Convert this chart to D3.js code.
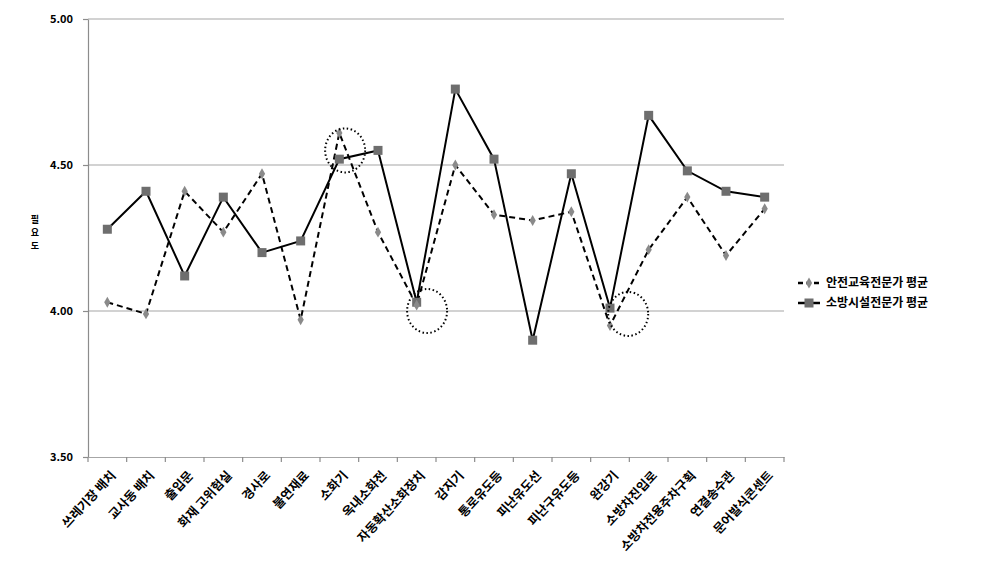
<!DOCTYPE html>
<html>
<head>
<meta charset="utf-8">
<script src="https://cdn.jsdelivr.net/npm/d3@7"></script>
<style>
  body { margin: 0; background: #fff; }
  text { font-family: "Noto Sans CJK KR", "Noto Sans", sans-serif; }
</style>
</head>
<body>
<div class="chart"></div>
<script>
const categories = ["쓰레기장 배치", "교사동 배치", "출입문", "화재 고위험실", "경사로", "불연재료",
  "소화기", "옥내소화전", "자동확산소화장치", "감지기", "통로유도등", "피난유도선",
  "피난구유도등", "완강기", "소방차진입로", "소방차전용주차구획", "연결송수관", "문어발식콘센트"];

const safetyEdu = [4.03, 3.99, 4.41, 4.27, 4.47, 3.97, 4.61, 4.27, 4.02, 4.50, 4.33, 4.31, 4.34, 3.95, 4.21, 4.39, 4.19, 4.35];
const fireFacility = [4.28, 4.41, 4.12, 4.39, 4.20, 4.24, 4.52, 4.55, 4.03, 4.76, 4.52, 3.90, 4.47, 4.01, 4.67, 4.48, 4.41, 4.39];

const seriesNames = ["안전교육전문가 평균", "소방시설전문가 평균"];
const yTicks = [3.5, 4.0, 4.5, 5.0];

// dotted rings drawn on the chart (category, shift in bands, value)
const rings = [
  { cat: "소화기", shift: 0.15, value: 4.55 },
  { cat: "자동확산소화장치", shift: 0.27, value: 4.00 },
  { cat: "완강기", shift: 0.47, value: 3.99 }
];

const W = 982, H = 577;
const margin = { top: 19, right: 198, bottom: 120, left: 88 };
const width = W - margin.left - margin.right,
  height = H - margin.top - margin.bottom;

const svg = d3.select(".chart").append("svg")
  .attr("width", W).attr("height", H)
  .append("g")
  .attr("transform", "translate(" + margin.left + "," + margin.top + ")");

const xScale = d3.scaleBand().domain(categories).range([0, width]);
const yScale = d3.scaleLinear().domain([3.5, 5.0]).range([height, 0]);
const xc = c => xScale(c) + xScale.bandwidth() / 2;

// gridlines
svg.selectAll(".grid").data(yTicks.slice(1)).enter().append("line")
  .attr("class", "grid")
  .attr("x1", 0).attr("x2", width)
  .attr("y1", d => yScale(d)).attr("y2", d => yScale(d))
  .attr("stroke", "#a6a6a6").attr("stroke-width", 1.2);

// y axis
const yAxis = svg.append("g").attr("class", "y-axis")
  .call(d3.axisLeft(yScale).tickValues(yTicks).tickFormat(d3.format(".2f")).tickSizeInner(5).tickSizeOuter(0));
yAxis.select(".domain").attr("stroke", "#8c8c8c").attr("stroke-width", 1.2);
yAxis.selectAll(".tick line").attr("stroke", "#8c8c8c").attr("stroke-width", 1.2);
yAxis.selectAll(".tick text")
  .attr("x", -15)
  .style("font-size", "11px").style("font-weight", "bold").attr("fill", "#000");

// x axis
const xAxis = svg.append("g").attr("class", "x-axis")
  .attr("transform", `translate(0, ${height})`)
  .call(d3.axisBottom(xScale).tickSize(0).tickFormat(""));
xAxis.select(".domain").attr("stroke", "#a6a6a6").attr("stroke-width", 1.2);
svg.append("g").selectAll("line").data(categories.concat(["_end"])).enter().append("line")
  .attr("x1", (d, i) => i * xScale.step()).attr("x2", (d, i) => i * xScale.step())
  .attr("y1", height).attr("y2", height + 5)
  .attr("stroke", "#8c8c8c").attr("stroke-width", 1.2);

svg.append("g").selectAll("text").data(categories).enter().append("text")
  .attr("transform", d => `translate(${xc(d) + 6}, ${height + 16}) rotate(-47)`)
  .attr("text-anchor", "end")
  .attr("dy", "0.35em")
  .style("font-size", "12.5px").style("font-weight", "bold")
  .text(d => d);

// y title, stacked characters
const yTitle = svg.append("text")
  .attr("text-anchor", "middle")
  .style("font-size", "9px").style("font-weight", "bold");
["필", "요", "도"].forEach((ch, i) => {
  yTitle.append("tspan").attr("x", -53).attr("y", yScale(4.3) + i * 13).text(ch);
});

// lines
const line = d3.line().x((d, i) => xc(categories[i])).y(d => yScale(d));

svg.append("path").datum(safetyEdu)
  .attr("d", line).attr("fill", "none")
  .attr("stroke", "#000").attr("stroke-width", 2).attr("stroke-dasharray", "6,4");

svg.append("path").datum(fireFacility)
  .attr("d", line).attr("fill", "none")
  .attr("stroke", "#000").attr("stroke-width", 2);

const diamond = d3.symbol().type(d3.symbolDiamond).size(34);

svg.selectAll(".sq").data(fireFacility).enter().append("rect")
  .attr("class", "sq")
  .attr("x", (d, i) => xc(categories[i]) - 4.5)
  .attr("y", d => yScale(d) - 4.5)
  .attr("width", 9).attr("height", 9)
  .attr("fill", "#6e6e6e");

svg.selectAll(".dm").data(safetyEdu).enter().append("path")
  .attr("class", "dm")
  .attr("d", diamond)
  .attr("transform", (d, i) => `translate(${xc(categories[i])}, ${yScale(d)})`)
  .attr("fill", "#8a8a8a");

// dotted rings
svg.selectAll(".ring").data(rings).enter().append("ellipse")
  .attr("cx", d => xc(d.cat) + d.shift * xScale.step())
  .attr("cy", d => yScale(d.value))
  .attr("rx", 20).attr("ry", 22)
  .attr("fill", "none").attr("stroke", "#000")
  .attr("stroke-width", 2).attr("stroke-dasharray", "1.5,2.5");

// legend
const legend = svg.append("g").attr("transform", `translate(${width + 14}, 264)`);
seriesNames.forEach((name, i) => {
  const g = legend.append("g").attr("transform", `translate(0, ${i * 20})`);
  g.append("line").attr("x1", 0).attr("x2", 22).attr("y1", 0).attr("y2", 0)
    .attr("stroke", "#000").attr("stroke-width", 2.5)
    .attr("stroke-dasharray", i === 0 ? "5,3" : null);
  if (i === 0) {
    g.append("path").attr("d", diamond).attr("transform", "translate(11,0)").attr("fill", "#8a8a8a");
  } else {
    g.append("rect").attr("x", 6.5).attr("y", -4.5).attr("width", 9).attr("height", 9).attr("fill", "#6e6e6e");
  }
  g.append("text").attr("x", 28).attr("y", 0).attr("dy", "0.35em")
    .style("font-size", "12px").style("font-weight", "bold")
    .text(name);
});
</script>
</body>
</html>
